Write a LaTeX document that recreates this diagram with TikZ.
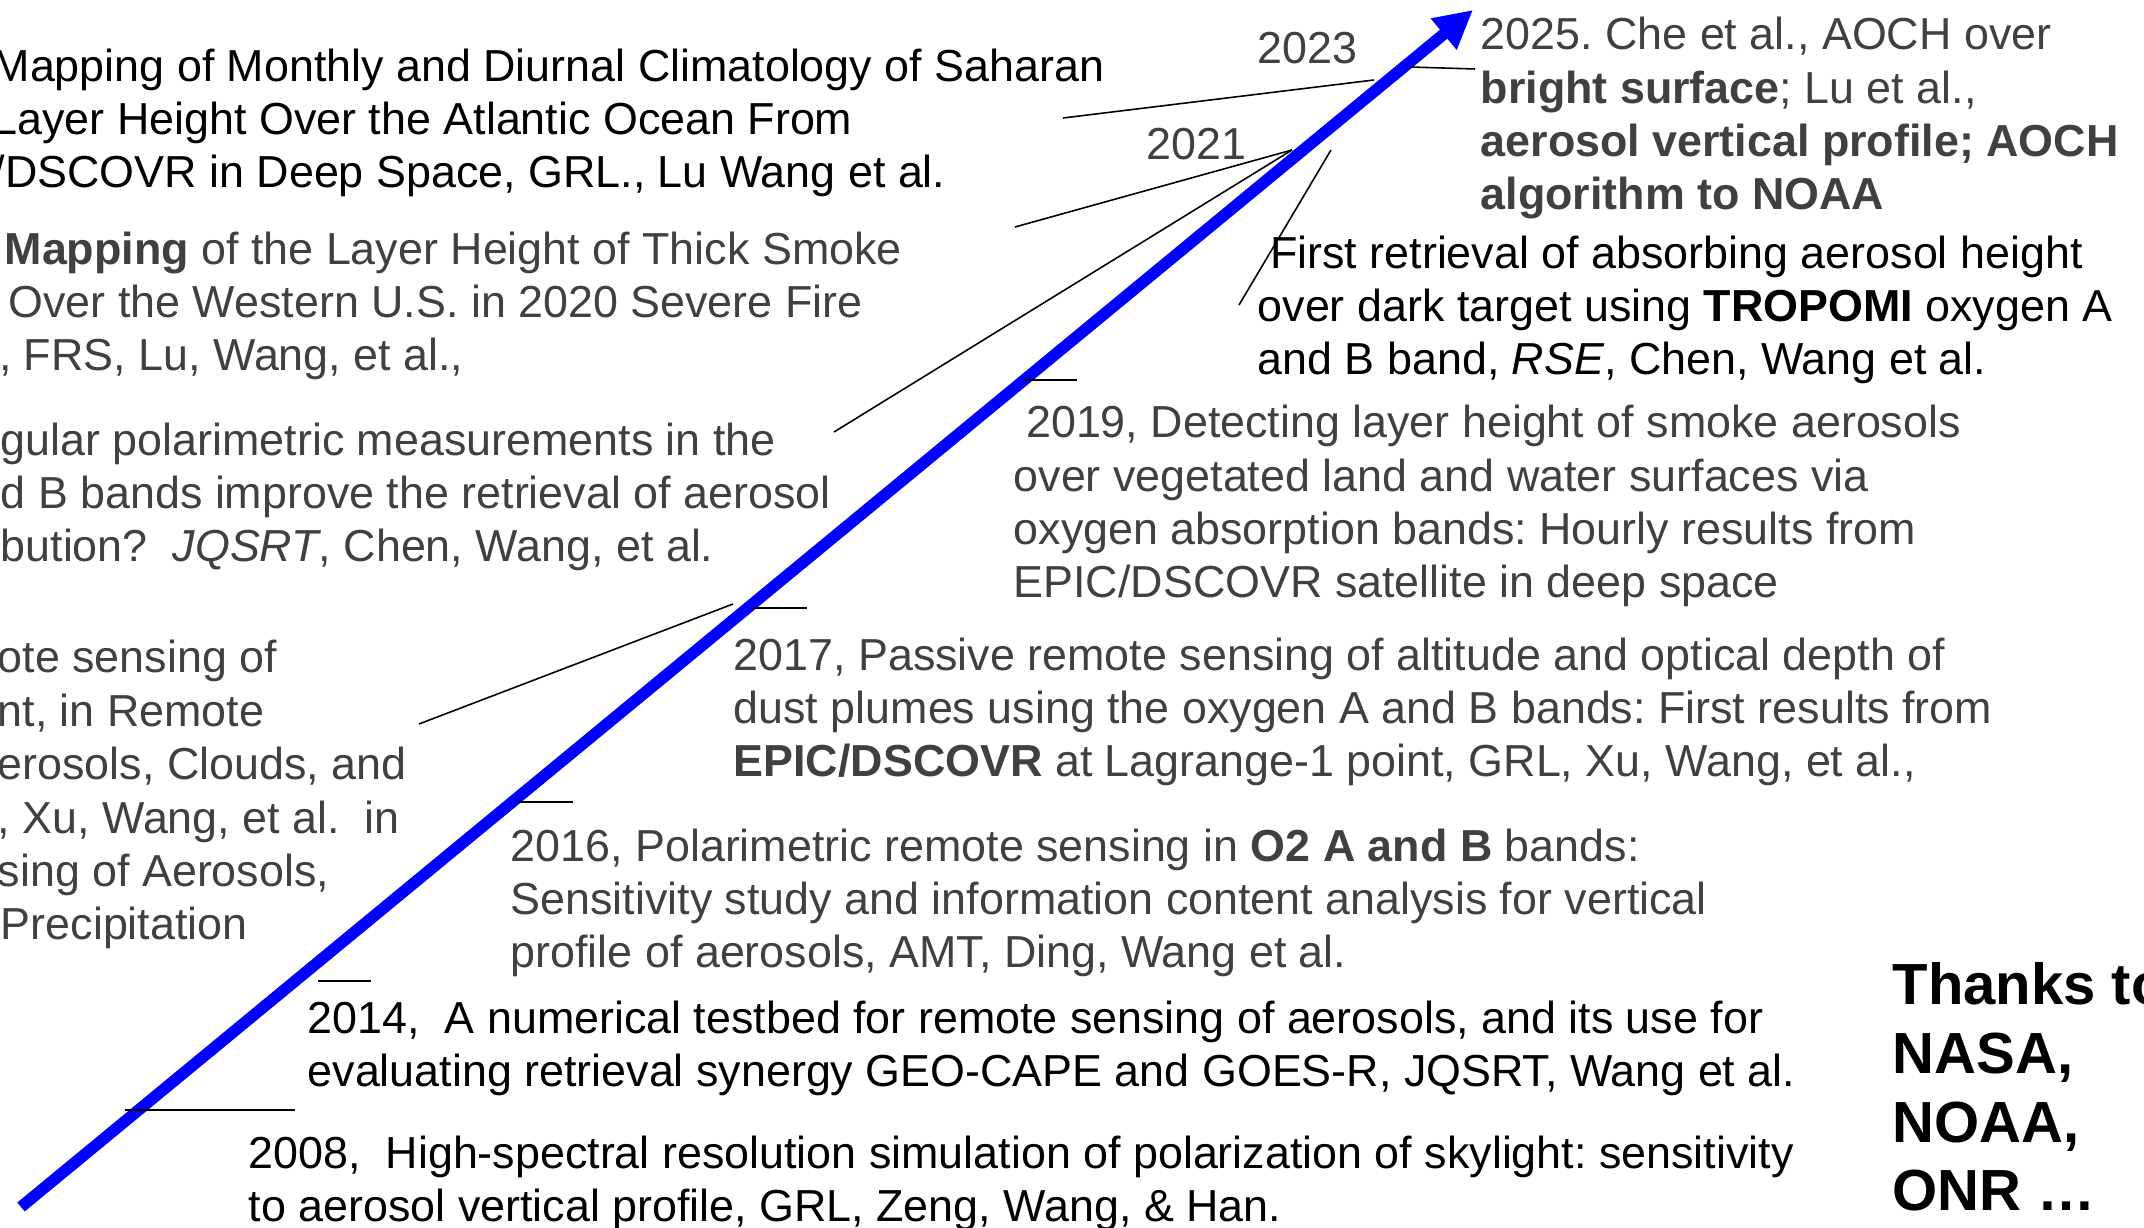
\documentclass[tikz,border=0pt]{standalone}
\usepackage{fontspec}
\setmainfont{Liberation Sans}
\usetikzlibrary{arrows.meta}
\definecolor{txtgray}{HTML}{404040}
\frenchspacing

\begin{document}
\begin{tikzpicture}[x=0.01cm, y=-0.01cm,
    entry/.style={anchor=base west, inner sep=0pt, align=left, font=\fontsize{12.75}{15.2}\selectfont},
    grayentry/.style={entry, text=txtgray},
    lead/.style={line width=0.45pt},
    timeline/.style={draw=blue, line width=3.3pt, -{Triangle[length=3.8mm, width=3.8mm]}}]
    \useasboundingbox (0,0) rectangle (2144,1228);
    % Time arrow
    \coordinate (tstart) at (21,1207);
    \coordinate (tend) at (1473,10);
    \draw[timeline] (tstart) -- (tend);
    % Points on the arrow and free ends of the leads
    \coordinate (p2023) at (1374,80);  \coordinate (e2023) at (1063,118);
    \coordinate (p2025) at (1410,67);  \coordinate (e2025) at (1475,69);
    \coordinate (p2021) at (1292,150); \coordinate (e2021a) at (1015,227);
    \coordinate (e2021b) at (834,432);
    \coordinate (p2020) at (1331,150); \coordinate (e2020) at (1239,305);
    \coordinate (p2019) at (1024,380); \coordinate (e2019) at (1077,380);
    \coordinate (p2017) at (753,608);  \coordinate (e2017) at (807,608);
    \coordinate (q2017) at (733,604);  \coordinate (f2017) at (419,724);
    \coordinate (p2016) at (519,802);  \coordinate (e2016) at (573,802);
    \coordinate (p2014) at (318,981);  \coordinate (e2014) at (371,981);
    \coordinate (p2008) at (125,1110); \coordinate (e2008) at (295,1110);
    % Leads
    \draw[lead] (p2023) -- (e2023);
    \draw[lead] (p2025) -- (e2025);
    \draw[lead] (p2021) -- (e2021a);
    \draw[lead] (p2021) -- (e2021b);
    \draw[lead] (p2020) -- (e2020);
    \draw[lead] (p2019) -- (e2019);
    \draw[lead] (p2017) -- (e2017);
    \draw[lead] (q2017) -- (f2017);
    \draw[lead] (p2016) -- (e2016);
    \draw[lead] (p2014) -- (e2014);
    \draw[lead, line width=0.6pt] (p2008) -- (e2008);
    % Year labels
    \node[grayentry] (lab2023) at (1257,64) {2023};
    \node[grayentry] (lab2021) at (1146,160) {2021};
    % Papers, left side (placed at the baseline of their last line)
    \node[entry] (monthly) at (-8,188) {Mapping of Monthly and Diurnal Climatology of Saharan\\Layer Height Over the Atlantic Ocean From\\/DSCOVR in Deep Space, GRL., Lu Wang et al.};
    \node[grayentry] (smoke) at (4,371) {\textbf{Mapping} of the Layer Height of Thick Smoke\\\hspace*{1.1pt}Over the Western U.S. in 2020 Severe Fire\\\hspace*{-1.6pt}, FRS, Lu, Wang, et al.,};
    \node[grayentry] (polar) at (0,562) {gular polarimetric measurements in the\\d B bands improve the retrieval of aerosol\\bution?\ \ \textit{JQSRT}, Chen, Wang, et al.};
    \node[grayentry] (remote) at (-3,940) {ote sensing of\\nt, in Remote\\erosols, Clouds, and\\, Xu, Wang, et al.\ \ in\\sing of Aerosols,\\\hspace*{0.9pt}Precipitation};
    % Papers, right side
    \node[grayentry] (che) at (1480,210) {2025. Che et al., AOCH over\\\textbf{bright surface}; Lu et al.,\\\textbf{aerosol vertical profile; AOCH}\\\textbf{algorithm to NOAA}};
    \node[entry] (tropomi) at (1257,375) {\hspace*{0.278em}First retrieval of absorbing aerosol height\\over dark target using \textbf{TROPOMI} oxygen A\\and B band, \textit{RSE}, Chen, Wang et al.};
    \node[grayentry] (y2019) at (1013,598) {\hspace*{0.278em}2019, Detecting layer height of smoke aerosols\\over vegetated land and water surfaces via\\oxygen absorption bands: Hourly results from\\EPIC/DSCOVR satellite in deep space};
    \node[grayentry] (y2017) at (733,777) {2017, Passive remote sensing of altitude and optical depth of\\dust plumes using the oxygen A and B bands: First results from\\\textbf{EPIC/DSCOVR} at Lagrange-1 point, GRL, Xu, Wang, et al.,};
    \node[grayentry] (y2016) at (510,968) {2016, Polarimetric remote sensing in \textbf{O2 A and B} bands:\\Sensitivity study and information content analysis for vertical\\profile of aerosols, AMT, Ding, Wang et al.};
    \node[entry] (y2014) at (307,1087) {2014,\ \ A numerical testbed for remote sensing of aerosols, and its use for\\evaluating retrieval synergy GEO-CAPE and GOES-R, JQSRT, Wang et al.};
    \node[entry] (y2008) at (248,1222) {2008,\ \ High-spectral resolution simulation of polarization of skylight: sensitivity\\to aerosol vertical profile, GRL, Zeng, Wang, \& Han.};
    % Funding
    \node[entry, font=\bfseries\fontsize{16.5}{19.6}\selectfont] (thanks) at (1892,1211) {Thanks to\\NASA,\\NOAA,\\ONR …};
\end{tikzpicture}
\end{document}
